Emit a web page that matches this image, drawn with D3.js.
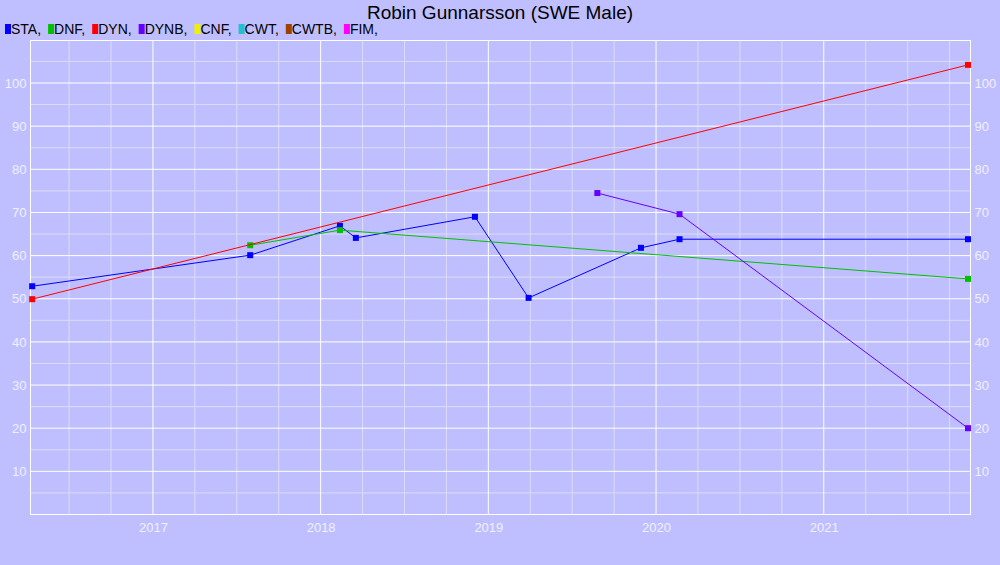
<!DOCTYPE html><html><head><script src="https://cdn.jsdelivr.net/npm/d3@7"></script>
<style>body{margin:0;background:#bfbfff}</style></head><body><svg id="c" width="1000" height="565"></svg><script>
const legendNames=["STA","DNF","DYN","DYNB","CNF","CWT","CWTB","FIM"];
const legendColors=["#0000ff","#00c000","#ff0000","#6600ff","#f0f000","#20c0d0","#a04000","#ff00ff"];
const staX=[2016.28,2017.58,2018.115,2018.21,2018.92,2019.24,2019.91,2020.14,2021.86];
const staY=[52.9,60.1,66.9,64.1,69.0,50.2,61.8,63.8,63.8];
const dnfX=[2017.58,2018.115,2021.86];
const dnfY=[62.4,65.9,54.6];
const dynX=[2016.28,2021.86];
const dynY=[49.9,104.2];
const dynbX=[2019.65,2020.14,2021.86];
const dynbY=[74.5,69.6,20.0];
const yearTicks=[2017,2018,2019,2020,2021];
const yTicks=[10,20,30,40,50,60,70,80,90,100];

const svg=d3.select("#c");
const L=30.5,R=970.5,T=40.5,B=514.5;
const x=d3.scaleLinear().domain([2016.27,2021.875]).range([L,R]);
const y=d3.scaleLinear().domain([0,109.85]).range([B,T]);
svg.append("rect").attr("width",1000).attr("height",565).attr("fill","#bfbfff");
const g=svg.append("g");
const minorX=d3.range(2016.25,2022,0.25).filter(v=>v>2016.27&&v<2021.875&&Math.abs(v-Math.round(v))>0.01);
g.selectAll(".mx").data(minorX).join("line").attr("x1",d=>x(d)).attr("x2",d=>x(d)).attr("y1",T).attr("y2",B).attr("stroke","#dcdcf4").attr("stroke-width",1);
const minorY=d3.range(5,110,10);
g.selectAll(".my").data(minorY).join("line").attr("y1",d=>y(d)).attr("y2",d=>y(d)).attr("x1",L).attr("x2",R).attr("stroke","#dcdcf4");
g.selectAll(".gx").data(yearTicks).join("line").attr("x1",d=>x(d)).attr("x2",d=>x(d)).attr("y1",T).attr("y2",B).attr("stroke","#fff");
g.selectAll(".gy").data(yTicks).join("line").attr("y1",d=>y(d)).attr("y2",d=>y(d)).attr("x1",L).attr("x2",R).attr("stroke","#fff");
g.append("rect").attr("x",L).attr("y",T).attr("width",R-L).attr("height",B-T).attr("fill","none").attr("stroke","#fff");
const font="Liberation Sans, Arial, sans-serif";
const tc="#f0f0ff";
const axL=d3.axisLeft(y).tickValues(yTicks).tickSize(0).tickPadding(4);
const axR=d3.axisRight(y).tickValues(yTicks).tickSize(0).tickPadding(4);
const axB=d3.axisBottom(x).tickValues(yearTicks).tickFormat(d3.format("d")).tickSize(0).tickPadding(8);
[[axL,`translate(${L},0)`],[axR,`translate(${R},0)`],[axB,`translate(0,${B})`]].forEach(([a,t])=>{
 const s=svg.append("g").attr("transform",t).call(a);
 s.select(".domain").remove();
 s.selectAll("text").attr("fill",tc).style("font-family",font).style("font-size","13px");
});
const series=[[staX,staY,0],[dnfX,dnfY,1],[dynX,dynY,2],[dynbX,dynbY,3]];
const line=d3.line().x(d=>x(d[0])).y(d=>y(d[1]));
series.forEach(([xs,ys,ci])=>{
 const pts=xs.map((v,i)=>[v,ys[i]]);
 svg.append("path").attr("d",line(pts)).attr("fill","none").attr("stroke",legendColors[ci]).attr("stroke-width",1);
 svg.selectAll(null).data(pts).join("rect").attr("x",d=>x(d[0])-3).attr("y",d=>y(d[1])-3).attr("width",6).attr("height",6).attr("fill",legendColors[ci]);
});
svg.append("text").attr("x",500).attr("y",19).attr("text-anchor","middle").style("font-family",font).style("font-size","19px").text("Robin Gunnarsson (SWE Male)");
const lg=svg.append("g");
let lx=5;
legendNames.forEach((n,i)=>{
 lg.append("rect").attr("x",lx).attr("y",24).attr("width",6).attr("height",10).attr("fill",legendColors[i]);
 const t=lg.append("text").attr("x",lx+6).attr("y",34).style("font-family",font).style("font-size","14px").text(n+",");
 lx+=6+t.node().getComputedTextLength()+7;
});
</script></body></html>
